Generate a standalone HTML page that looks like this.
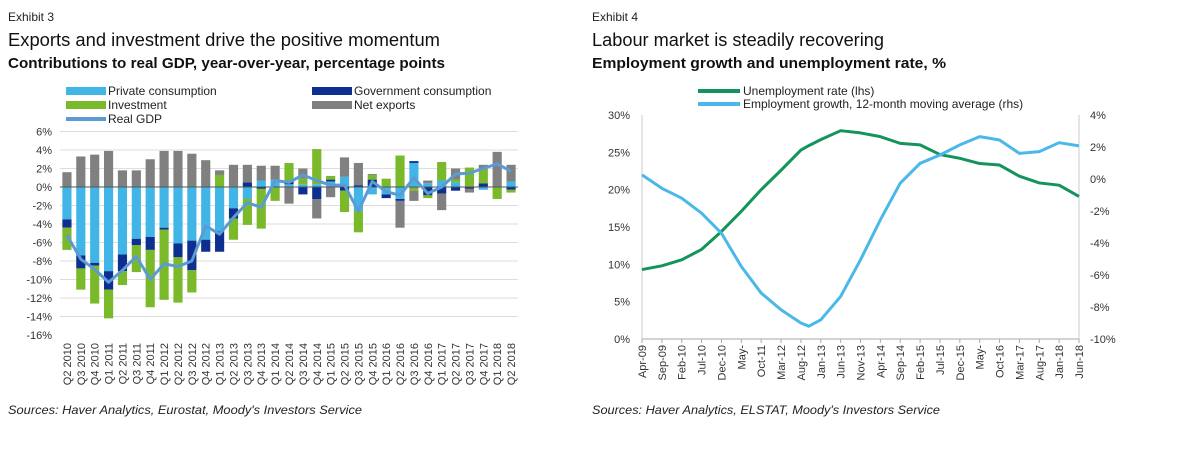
<!DOCTYPE html>
<html><head><meta charset="utf-8"><style>
body{margin:0;background:#fff;width:1200px;height:455px;overflow:hidden;font-family:"Liberation Sans",sans-serif;}
svg{position:absolute;left:0;top:0}
</style></head><body>
<svg id="s" width="1200" height="455" xmlns="http://www.w3.org/2000/svg" font-family="Liberation Sans, sans-serif">
<g>
<text x="8" y="21" font-size="12" fill="#222">Exhibit 3</text>
<text x="8" y="46" font-size="18" fill="#111" textLength="432" lengthAdjust="spacingAndGlyphs">Exports and investment drive the positive momentum</text>
<text x="8" y="68" font-size="15" font-weight="bold" fill="#111" textLength="437" lengthAdjust="spacingAndGlyphs">Contributions to real GDP, year-over-year, percentage points</text>
<text x="8" y="414" font-size="12" font-style="italic" fill="#222" textLength="354" lengthAdjust="spacingAndGlyphs">Sources: Haver Analytics, Eurostat, Moody's Investors Service</text>
</g>
<g>
<text x="592" y="21" font-size="12" fill="#222">Exhibit 4</text>
<text x="592" y="46" font-size="18" fill="#111" textLength="292" lengthAdjust="spacingAndGlyphs">Labour market is steadily recovering</text>
<text x="592" y="68" font-size="15" font-weight="bold" fill="#111" textLength="354" lengthAdjust="spacingAndGlyphs">Employment growth and unemployment rate, %</text>
<text x="592" y="414" font-size="12" font-style="italic" fill="#222" textLength="348" lengthAdjust="spacingAndGlyphs">Sources: Haver Analytics, ELSTAT, Moody's Investors Service</text>
</g>
<g font-size="12" fill="#222">
<rect x="66" y="87" width="40" height="8" fill="#41b6e6"/><text x="108" y="95">Private consumption</text>
<rect x="312" y="87" width="40" height="8" fill="#0d2f8f"/><text x="354" y="95">Government consumption</text>
<rect x="66" y="101" width="40" height="8" fill="#7ab929"/><text x="108" y="109">Investment</text>
<rect x="312" y="101" width="40" height="8" fill="#808080"/><text x="354" y="109">Net exports</text>
<line x1="66" y1="119" x2="106" y2="119" stroke="#5b9bd5" stroke-width="4"/><text x="108" y="123">Real GDP</text>
</g>
<g font-size="12" fill="#222">
<line x1="698" y1="91" x2="740" y2="91" stroke="#13945c" stroke-width="4"/><text x="743" y="95">Unemployment rate (lhs)</text>
<line x1="698" y1="104" x2="740" y2="104" stroke="#4ab8e8" stroke-width="4"/><text x="743" y="108">Employment growth, 12-month moving average (rhs)</text>
</g>
<g id="left"></g><g id="right"></g>
</svg>
<script>
const quarters=["Q2 2010","Q3 2010","Q4 2010","Q1 2011","Q2 2011","Q3 2011","Q4 2011","Q1 2012","Q2 2012","Q3 2012","Q4 2012","Q1 2013","Q2 2013","Q3 2013","Q4 2013","Q1 2014","Q2 2014","Q3 2014","Q4 2014","Q1 2015","Q2 2015","Q3 2015","Q4 2015","Q1 2016","Q2 2016","Q3 2016","Q4 2016","Q1 2017","Q2 2017","Q3 2017","Q4 2017","Q1 2018","Q2 2018"];
const privCons=[-3.5,-7.4,-8.2,-9.1,-7.3,-5.6,-5.4,-4.4,-6.1,-5.8,-5.7,-4.8,-2.3,-1.3,0.7,0.8,0.3,0.3,0.3,0.6,1.1,-2.6,-0.8,-0.8,-1.3,2.6,0.4,0.7,0.5,0,-0.3,0,0.6];
const govCons=[-0.9,-1.4,-0.3,-2.0,-1.8,-0.7,-1.4,-0.2,-1.5,-3.2,-1.3,-2.2,-1.1,0.5,-0.2,0,0.3,-0.8,-1.3,0.2,-0.4,0.2,0.8,-0.4,-0.2,0.2,-0.9,-0.7,-0.4,-0.2,0.4,0,-0.3];
const investment=[-2.4,-2.3,-4.1,-3.1,-1.5,-2.9,-6.2,-7.6,-4.9,-2.4,0,1.3,-2.3,-2.8,-4.3,-1.5,2.0,0.6,3.8,0.4,-2.3,-2.3,0.5,0.9,3.4,-0.4,-0.3,2.0,0.3,2.1,1.6,-1.3,-0.3];
const netExports=[1.6,3.3,3.5,3.9,1.8,1.8,3.0,3.9,3.9,3.6,2.9,0.5,2.4,1.9,1.6,1.5,-1.8,1.1,-2.1,-1.1,2.1,2.4,0.1,0,-2.9,-1.1,0.3,-1.8,1.2,-0.4,0.4,3.8,1.8];
const realGdp=[-5.2,-7.8,-8.9,-10.3,-9.0,-7.5,-10.0,-8.3,-8.6,-8.0,-4.2,-5.1,-3.3,-1.7,-2.2,0.7,0.5,1.3,0.7,0.2,0.2,-2.6,0.6,-0.5,-0.9,1.0,-0.7,0,1.4,1.5,2.0,2.5,1.7];
const leftTicks=[6,4,2,0,-2,-4,-6,-8,-10,-12,-14,-16];

const monthIdx=[0,5,10,15,20,25,30,35,40,42,45,50,55,60,65,70,75,80,85,90,95,100,105,110];
const unemp=[9.3,9.8,10.6,12.0,14.4,17.1,20.0,22.6,25.3,25.9,26.7,27.9,27.6,27.1,26.2,26.0,24.7,24.2,23.5,23.3,21.8,20.9,20.6,19.1];
const empGrowth=[0.26,-0.58,-1.2,-2.14,-3.39,-5.47,-7.13,-8.17,-9.0,-9.2,-8.8,-7.34,-5.05,-2.55,-0.26,0.98,1.5,2.13,2.65,2.44,1.6,1.71,2.27,2.07];
const monthLabels=["Apr-09","Sep-09","Feb-10","Jul-10","Dec-10","May-","Oct-11","Mar-12","Aug-12","Jan-13","Jun-13","Nov-13","Apr-14","Sep-14","Feb-15","Jul-15","Dec-15","May-","Oct-16","Mar-17","Aug-17","Jan-18","Jun-18"];
const lhsTicks=[0,5,10,15,20,25,30];
const rhsTicks=[4,2,0,-2,-4,-6,-8,-10];

const NS="http://www.w3.org/2000/svg";
function mk(p,t,a){const e=document.createElementNS(NS,t);for(const k in a)e.setAttribute(k,a[k]);p.appendChild(e);return e;}

// LEFT
const L=document.getElementById('left');
const lx0=60,lx1=518;
const ly=v=>187-v*9.25;
const bw=(lx1-lx0)/quarters.length;
const lxc=i=>lx0+bw*(i+0.5);
leftTicks.forEach(t=>{
 if(t>-16){const g=mk(L,'line',{x1:lx0,x2:lx1,y1:ly(t),y2:ly(t),stroke:'#ddd','stroke-width':1});
 
 }
 const tx=mk(L,'text',{x:52,y:ly(t)+4,'text-anchor':'end','font-size':11,fill:'#333'});tx.textContent=t+'%';
 
 
});
const series=[[privCons,'#41b6e6','private-consumption'],[govCons,'#0d2f8f','government-consumption'],[investment,'#7ab929','investment'],[netExports,'#808080','net-exports']];
quarters.forEach((q,i)=>{
 let pos=0,neg=0;
 series.forEach(([arr,c,n])=>{
  const v=arr[i];if(!v)return;
  let a,b;if(v>0){a=pos;b=pos+v;pos=b;}else{a=neg;b=neg+v;neg=b;}
  const r=mk(L,'rect',{x:lxc(i)-bw*0.33,width:bw*0.66,y:Math.min(ly(a),ly(b)),height:Math.abs(ly(a)-ly(b)),fill:c});
  
  
 });
 const tx=mk(L,'text',{transform:`translate(${lxc(i)+4},343) rotate(-90)`,'text-anchor':'end','font-size':11,fill:'#333'});tx.textContent=q;
 
 
});
const z=mk(L,'line',{x1:lx0,x2:lx1,y1:ly(0),y2:ly(0),stroke:'#555','stroke-width':1});


const gl=mk(L,'polyline',{points:realGdp.map((v,i)=>lxc(i)+','+ly(v)).join(' '),fill:'none',stroke:'#5b9bd5','stroke-width':3,'stroke-linejoin':'round'});



// RIGHT
const R=document.getElementById('right');
const rx0=642,rx1=1079;
const rx=m=>rx0+(rx1-rx0)*m/110;
const yl=v=>339-v*224/30;
const yr=v=>115+(4-v)*16;
[[rx0,rx0],[rx1,rx1]].forEach(([a,b])=>{const l=mk(R,'line',{x1:a,x2:b,y1:115,y2:339,stroke:'#ccc'});
 
 });
const xa=mk(R,'line',{x1:rx0,x2:rx1,y1:339,y2:339,stroke:'#aaa'});


lhsTicks.forEach(t=>{const tx=mk(R,'text',{x:630,y:yl(t)+4,'text-anchor':'end','font-size':11,fill:'#333'});tx.textContent=t+'%';
 
 });
rhsTicks.forEach(t=>{const tx=mk(R,'text',{x:1090,y:yr(t)+4,'font-size':11,fill:'#333'});tx.textContent=t+'%';
 
 });
monthLabels.forEach((lab,i)=>{const m=i*5;
 const tk=mk(R,'line',{x1:rx(m),x2:rx(m),y1:339,y2:343,stroke:'#aaa'});
 
 
 const tx=mk(R,'text',{transform:`translate(${rx(m)+4},345) rotate(-90)`,'text-anchor':'end','font-size':11,fill:'#333'});tx.textContent=lab;
 
 });
const ul=mk(R,'polyline',{points:monthIdx.map((m,i)=>rx(m)+','+yl(unemp[i])).join(' '),fill:'none',stroke:'#13945c','stroke-width':3,'stroke-linejoin':'round'});


const el=mk(R,'polyline',{points:monthIdx.map((m,i)=>rx(m)+','+yr(empGrowth[i])).join(' '),fill:'none',stroke:'#4ab8e8','stroke-width':3,'stroke-linejoin':'round'});


</script>
</body></html>
